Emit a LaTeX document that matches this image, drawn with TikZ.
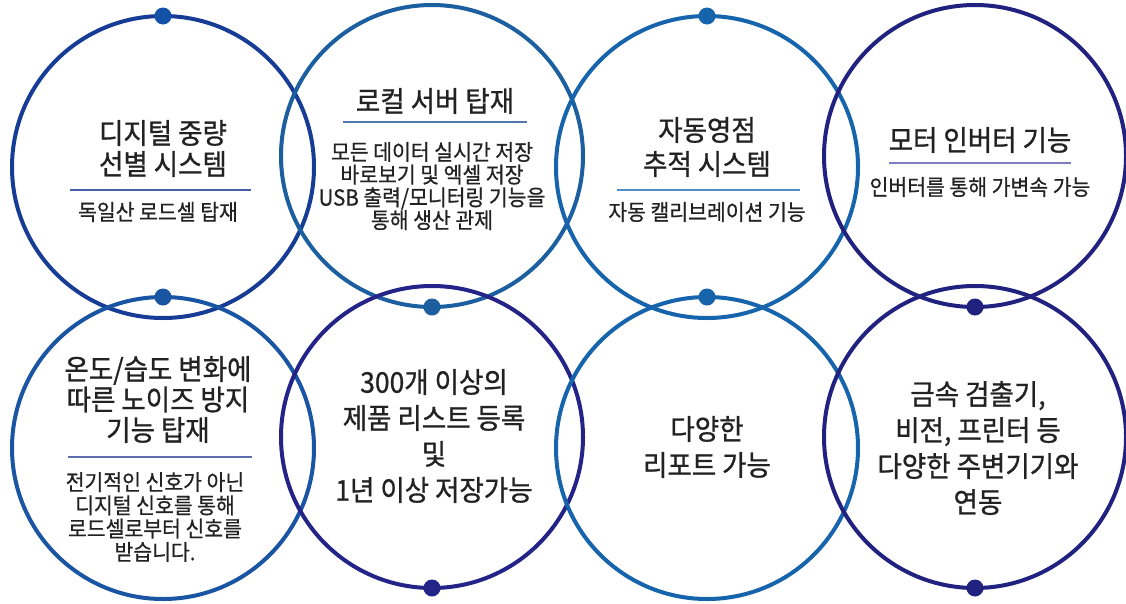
\documentclass[tikz,border=0pt]{standalone}
\usepackage{fontspec}
\newfontfamily\krT[FakeStretch=0.93,FakeBold=0.9]{Noto Sans CJK KR}
\newfontfamily\krS[FakeStretch=0.93,FakeBold=0.6]{Noto Sans CJK KR}
\definecolor{txt}{RGB}{34,34,34}
\definecolor{cA}{RGB}{22,60,150}
\definecolor{cAd}{RGB}{20,82,168}
\definecolor{cB}{RGB}{28,95,160}
\definecolor{cC}{RGB}{22,100,172}
\definecolor{cD}{RGB}{33,33,128}
\definecolor{cE}{RGB}{25,85,162}
\definecolor{cF}{RGB}{36,36,136}
\definecolor{lA}{RGB}{70,95,170}
\definecolor{lB}{RGB}{80,120,175}
\definecolor{lC}{RGB}{80,140,200}
\definecolor{lD}{RGB}{125,125,195}
\definecolor{lE}{RGB}{95,110,175}
\begin{document}
\begin{tikzpicture}[x=1pt,y=-1pt,
  ring/.style={circle, draw=#1, line width=4pt, minimum size=302pt, inner sep=0pt, outer sep=0pt},
  dotnode/.style={circle, fill=#1, minimum size=17pt, inner sep=0pt},
  ttl/.style={font=\krT\fontsize{28.5}{#1}\selectfont, text=txt, align=center, inner sep=0pt},
  sub/.style={font=\krS\fontsize{22}{#1}\selectfont, text=txt, align=center, inner sep=0pt},
  sepline/.style={draw=#1, line width=1.8pt}]
\useasboundingbox[fill=white] (0,0) rectangle (1126,603);

% circles
\node[ring=cA] (c1) at (163,167) {};
\node[ring=cB] (c2) at (432,156) {};
\node[ring=cC] (c3) at (707,167) {};
\node[ring=cD] (c4) at (975,156) {};
\node[ring=cE] (c5) at (163,448) {};
\node[ring=cF] (c6) at (432,437) {};
\node[ring=cC] (c7) at (707,448) {};
\node[ring=cD] (c8) at (975,437) {};

% dots
\node[dotnode=cAd] (d1) at (c1.north) {};
\node[dotnode=cC] (d3) at (c3.north) {};
\node[dotnode=cE] (d5) at (c5.north) {};
\node[dotnode=cC] (d7) at (c7.north) {};
\node[dotnode=cB] (d2) at (c2.south) {};
\node[dotnode=cD] (d4) at (c4.south) {};
\node[dotnode=cF] (d6) at (c6.south) {};
\node[dotnode=cD] (d8) at (c8.south) {};

% circle 1
\node[ttl=31] (t1) at (163,148.5) {디지털 중량\\선별 시스템};
\draw[sepline=lA] (70,190) -- (251,190);
\node[sub=23] (s1) at (158,212) {독일산 로드셀 탑재};

% circle 2
\node[ttl=31] (t2) at (435,101) {로컬 서버 탑재};
\draw[sepline=lB] (343,122) -- (527,122);
\node[sub=22.7] (s2) at (432,186) {모든 데이터 실시간 저장\\바로보기 및 엑셀 저장\\USB 출력/모니터링 기능을\\통해 생산 관제};

% circle 3
\node[ttl=34] (t3) at (707,147) {자동영점\\추적 시스템};
\draw[sepline=lC] (617,190) -- (800,190);
\node[sub=23] (s3) at (707,212) {자동 캘리브레이션 기능};

% circle 4
\node[ttl=31] (t4) at (980,140) {모터 인버터 기능};
\draw[sepline=lD] (889,163) -- (1071,163);
\node[sub=23] (s4) at (980,187) {인버터를 통해 가변속 가능};

% circle 5
\node[ttl=30.5] (t5) at (158,399.5) {온도/습도 변화에\\따른 노이즈 방지\\기능 탑재};
\draw[sepline=lE] (68,457) -- (252,457);
\node[sub=23.3] (s5) at (155,517) {전기적인 신호가 아닌\\디지털 신호를 통해\\로드셀로부터 신호를\\받습니다.};

% circle 6
\node[ttl=36] (t6) at (434,436) {300개 이상의\\제품 리스트 등록\\및\\1년 이상 저장가능};

% circle 7
\node[ttl=36] (t7) at (707,447) {다양한\\리포트 가능};

% circle 8
\node[ttl=36] (t8) at (978,448) {금속 검출기,\\비전, 프린터 등\\다양한 주변기기와\\연동};
\end{tikzpicture}
\end{document}
